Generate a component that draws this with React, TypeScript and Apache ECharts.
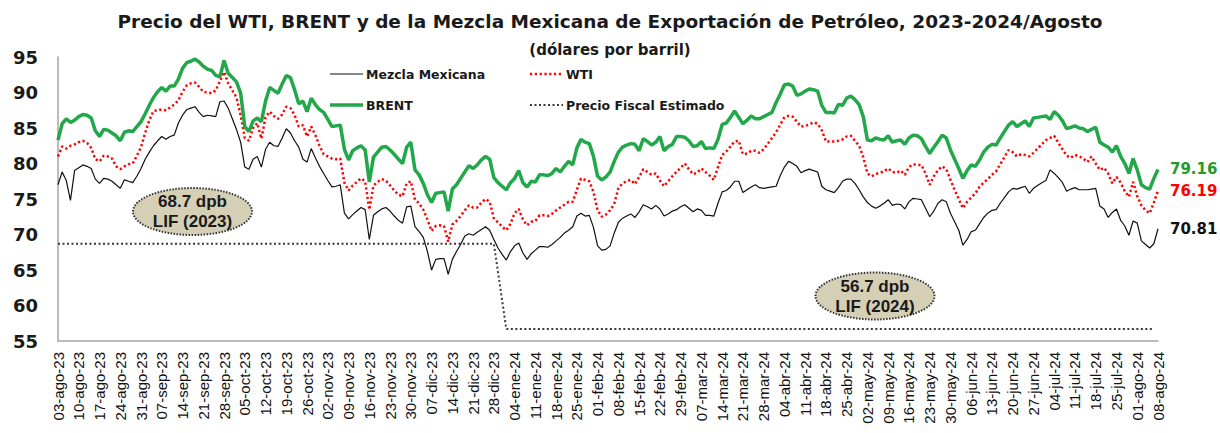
import React, { useEffect, useRef } from "react";
import * as echarts from "echarts";

const TITLE = "Precio del WTI, BRENT y de la Mezcla Mexicana de Exportación de Petróleo, 2023-2024/Agosto";
const SUBTITLE = "(dólares por barril)";

const TICK_LABELS = [
  "03-ago-23", "10-ago-23", "17-ago-23", "24-ago-23", "31-ago-23", "07-sep-23", "14-sep-23", "21-sep-23", "28-sep-23",
  "05-oct-23", "12-oct-23", "19-oct-23", "26-oct-23", "02-nov-23", "09-nov-23", "16-nov-23", "23-nov-23", "30-nov-23",
  "07-dic-23", "14-dic-23", "21-dic-23", "28-dic-23", "04-ene-24", "11-ene-24", "18-ene-24", "25-ene-24", "01-feb-24",
  "08-feb-24", "15-feb-24", "22-feb-24", "29-feb-24", "07-mar-24", "14-mar-24", "21-mar-24", "28-mar-24", "04-abr-24",
  "11-abr-24", "18-abr-24", "25-abr-24", "02-may-24", "09-may-24", "16-may-24", "23-may-24", "30-may-24", "06-jun-24",
  "13-jun-24", "20-jun-24", "27-jun-24", "04-jul-24", "11-jul-24", "18-jul-24", "25-jul-24", "01-ago-24", "08-ago-24",
];

const MONTHS_ES = ["ene", "feb", "mar", "abr", "may", "jun", "jul", "ago", "sep", "oct", "nov", "dic"];
const START_DATE = [2023, 7, 3];
const END_DATE = [2024, 7, 8];

// Daily (weekday) values, 03-ago-23 .. 08-ago-24
const BRENT = [
  83.3, 85.6, 86.3, 85.8, 86.1, 86.6, 86.9, 86.8, 86.4, 84.6,
  83.8, 84.8, 84.7, 84.3, 83.9, 83.2, 84.4, 84.6, 84.5, 85.2,
  85.9, 87.0, 88.2, 89.3, 90.1, 90.7, 90.2, 90.9, 90.9, 91.9,
  93.4, 94.2, 94.4, 94.7, 94.3, 93.7, 93.3, 93.1, 92.4, 92.2,
  94.5, 92.7, 92.1, 91.5, 89.9, 85.2, 84.5, 86.0, 86.4, 85.9,
  88.8, 90.7, 90.3, 89.9, 91.2, 92.4, 92.1, 90.4, 88.4, 88.8,
  87.3, 89.2, 88.3, 87.6, 87.2, 86.2, 85.2, 85.3, 85.4, 82.0,
  80.5, 81.8, 82.2, 82.5, 81.9, 77.4, 80.9, 81.6, 82.3, 82.4,
  81.9, 81.3, 80.6, 80.0, 82.3, 83.0, 79.1, 78.4, 77.2, 75.6,
  74.5, 75.8, 75.9, 76.0, 73.3, 76.4, 77.0, 77.9, 78.8, 79.7,
  79.3, 79.8, 80.5, 81.0, 80.6, 78.0, 77.3, 76.8, 76.3, 77.3,
  77.9, 79.0, 77.3, 76.7, 77.5, 77.4, 78.4, 78.4, 78.3, 78.6,
  79.3, 78.8, 79.6, 80.3, 79.8, 82.2, 83.4, 83.0, 82.8, 81.0,
  78.2, 77.7, 78.1, 78.8, 80.3, 81.6, 82.3, 82.6, 82.8, 82.7,
  81.8, 83.5, 83.1, 82.6, 83.0, 83.8, 81.8, 82.4, 82.7, 83.8,
  83.8, 83.7, 83.2, 82.4, 82.5, 83.1, 82.1, 82.2, 82.1, 83.4,
  85.5, 85.7, 86.5, 87.4, 86.5, 85.6, 86.1, 86.7, 86.3, 86.3,
  86.6, 86.9, 87.2, 88.6, 89.8, 91.1, 91.2, 90.9, 89.6, 89.8,
  90.2, 90.5, 90.4, 90.2, 88.2, 87.2, 87.2, 87.1, 88.3, 88.2,
  89.2, 89.5, 89.0, 88.3, 86.6, 83.3, 83.2, 83.6, 83.4, 83.3,
  83.9, 83.0, 83.2, 83.3, 82.7, 83.6, 84.0, 83.9, 83.5, 82.4,
  81.4, 82.3, 83.1, 84.0, 83.6, 81.9, 80.6, 79.3, 77.9, 79.0,
  79.8, 79.6, 80.5, 81.6, 82.3, 82.7, 82.6, 83.6, 84.5, 85.4,
  85.9, 85.2, 85.6, 86.0, 85.2, 86.4, 86.5, 86.6, 86.7, 86.2,
  87.3, 86.8, 86.0, 84.9, 85.1, 85.3, 85.0, 84.9, 84.5, 84.8,
  85.1, 83.0, 82.6, 82.3, 81.6, 82.5, 81.0, 80.0, 78.6, 80.7,
  79.1, 77.0, 76.6, 76.4, 77.9, 79.16,
];

const WTI = [
  81.0, 82.4, 82.1, 82.5, 82.7, 83.0, 83.2, 82.9, 82.2, 80.6,
  80.3, 81.1, 81.0, 80.7, 79.6, 79.2, 79.6, 79.9, 80.0, 81.1,
  82.3, 84.3, 86.1, 87.4, 87.5, 87.6, 87.5, 87.9, 88.3, 88.9,
  90.1, 91.0, 91.3, 91.4, 90.8, 90.1, 90.0, 89.9, 90.3, 91.6,
  92.9, 91.3, 90.3, 89.3, 86.8, 83.6, 83.2, 85.0, 85.7, 83.5,
  86.5, 87.3, 86.7, 86.3, 86.9, 88.0, 87.8, 86.8, 85.2, 85.4,
  83.8, 85.2, 84.0, 82.5, 81.3, 81.0, 80.7, 80.6, 80.7, 77.3,
  76.2, 76.9, 77.4, 77.9, 77.5, 73.5, 76.9, 77.4, 77.8, 77.6,
  76.9, 76.2, 75.6, 75.4, 77.2, 77.5, 74.9, 74.4, 73.5, 72.1,
  70.5, 71.2, 71.3, 71.2, 69.0, 71.4, 71.9, 72.6, 73.4, 74.1,
  73.8, 73.8, 74.5, 75.0, 74.6, 72.3, 71.7, 71.1, 70.6, 71.5,
  73.0, 73.6, 72.1, 71.3, 71.8, 71.9, 72.7, 72.7, 72.6, 72.9,
  73.4, 73.8, 74.2, 74.6, 74.6, 76.3, 77.9, 77.7, 77.5, 76.0,
  73.4, 72.5, 72.8, 73.4, 74.3, 76.5, 77.2, 77.5, 77.7, 77.1,
  78.1, 79.2, 78.8, 78.4, 78.6, 77.6, 76.8, 77.5, 78.2, 78.8,
  79.4, 80.0, 79.2, 78.5, 78.7, 79.3, 78.8, 78.3, 77.7, 79.5,
  81.2, 81.7, 82.4, 83.1, 83.2, 81.3, 81.4, 81.8, 81.8, 81.5,
  82.0, 82.8, 83.6, 84.4, 85.5, 86.5, 86.7, 86.6, 85.9, 85.2,
  85.3, 85.5, 85.8, 85.6, 84.7, 83.1, 83.1, 83.1, 83.2, 83.4,
  83.8, 83.9, 83.2, 82.5, 80.9, 78.6, 78.2, 78.5, 78.7, 78.9,
  79.3, 78.8, 78.7, 79.0, 78.4, 79.5, 79.9, 79.8, 79.8, 78.6,
  77.0, 78.2, 79.1, 79.6, 79.2, 77.7, 76.3, 75.0, 73.7, 74.6,
  75.2, 75.8, 76.7, 77.3, 77.8, 78.4, 78.9, 79.9, 80.9, 81.9,
  81.6, 81.0, 81.3, 81.2, 81.0, 81.5, 82.1, 82.7, 83.3, 83.6,
  83.9, 82.9, 82.0, 81.1, 80.8, 81.2, 81.0, 80.7, 80.2, 81.0,
  80.0, 79.1, 79.4, 78.6, 77.2, 78.1, 77.3, 76.1, 75.3, 77.4,
  75.4, 74.1, 73.4, 73.0, 74.5, 76.19,
];

const MEZCLA = [
  77.0, 78.8, 77.6, 74.8, 79.0, 79.4, 79.8, 79.6, 79.3, 77.8,
  77.2, 77.9, 77.8, 77.5, 77.0, 76.5, 77.7, 77.5, 77.3, 78.2,
  79.3, 80.6, 81.6, 82.5, 83.2, 83.8, 83.4, 83.8, 84.0, 85.7,
  86.8, 87.6, 87.8, 88.0, 87.2, 86.6, 86.8, 86.7, 86.6, 88.7,
  88.8, 87.8, 86.3, 84.8, 83.0, 79.5, 79.2, 80.6, 81.0, 79.5,
  82.0, 83.0, 82.5, 82.4, 83.6, 84.9, 84.3, 83.2, 82.3, 80.6,
  80.2, 82.1, 80.8, 79.6, 78.6, 77.6, 76.7, 76.8, 77.0, 73.0,
  72.2, 72.8, 73.3, 73.8, 73.5, 69.3, 72.7, 73.2, 73.6, 73.8,
  73.3, 72.6, 72.0, 71.6, 73.9, 74.0, 71.1, 70.4, 69.6, 67.6,
  65.0, 66.5, 66.6, 66.6, 64.4, 66.5, 67.6, 68.6, 69.8, 70.1,
  69.9, 70.3, 70.7, 71.1, 70.6, 69.3, 68.1, 67.2, 66.4, 67.6,
  68.4, 68.8, 67.4, 66.5, 67.3, 67.8, 68.3, 68.3, 68.2, 68.6,
  69.1, 69.6, 70.2, 70.6, 71.1, 72.6, 73.0, 72.6, 72.7, 71.0,
  68.4, 67.8, 67.9, 68.4, 70.2, 71.7, 72.3, 72.6, 72.9, 72.4,
  73.2, 74.2, 73.9, 73.6, 74.1, 73.6, 72.6, 72.9, 73.3, 73.5,
  73.9, 74.2, 73.7, 73.2, 73.6, 73.4, 72.7, 72.7, 72.6, 74.4,
  76.0, 76.2, 76.7, 77.5, 77.5, 75.9, 76.3, 76.7, 77.0, 76.6,
  76.5, 76.6, 76.7, 76.8, 78.3, 79.5, 80.3, 80.0, 79.6, 78.7,
  79.0, 79.2, 79.0, 78.8, 76.8, 76.3, 76.1, 75.9, 76.6, 77.5,
  77.8, 77.8, 77.2, 76.3, 75.3, 74.5, 74.0, 73.7, 74.0, 74.4,
  74.9, 74.1, 74.3, 74.2, 73.6, 74.6, 75.1, 75.0, 74.9, 73.7,
  72.5, 73.3, 74.4, 74.9, 74.6, 73.0, 71.8, 70.6, 68.5, 69.3,
  70.4, 70.6, 71.5, 72.4, 73.0, 73.4, 73.5, 74.4, 75.2, 76.0,
  76.5, 76.4, 76.6, 76.8, 75.8, 76.5, 76.9, 77.3, 77.6, 79.1,
  78.6, 78.0, 77.3, 76.1, 76.4, 76.6, 76.3, 76.3, 76.3, 76.4,
  76.5, 74.0, 73.6, 72.4, 73.1, 73.6, 72.0, 71.2, 69.9, 71.9,
  71.6, 69.1, 68.6, 68.1, 68.7, 70.81,
];

const FISCAL_2023 = 68.7;
const FISCAL_2024 = 56.7;
const FISCAL_2023_LAST_DAY = "28-dic-23";
const FISCAL_2024_FIRST_DAY = "02-ene-24";
const FISCAL_2024_LAST_DAY = "07-ago-24";

const Y_TICKS = [55, 60, 65, 70, 75, 80, 85, 90, 95];

function fmtDay(d: Date): string {
  const dd = String(d.getUTCDate()).padStart(2, "0");
  const yy = String(d.getUTCFullYear()).slice(2);
  return `${dd}-${MONTHS_ES[d.getUTCMonth()]}-${yy}`;
}

function buildDays(): string[] {
  const out: string[] = [];
  const d = new Date(Date.UTC(START_DATE[0], START_DATE[1], START_DATE[2]));
  const end = Date.UTC(END_DATE[0], END_DATE[1], END_DATE[2]);
  while (d.getTime() <= end) {
    const wd = d.getUTCDay();
    if (wd !== 0 && wd !== 6) out.push(fmtDay(d));
    d.setUTCDate(d.getUTCDate() + 1);
  }
  return out;
}

const FONT = "'DejaVu Sans', Verdana, sans-serif";
const LABEL_FONT = "'Liberation Sans', Arial, sans-serif";

export default function App() {
  const ref = useRef<HTMLDivElement>(null);

  useEffect(() => {
    if (!ref.current) return;
    const chart = echarts.init(ref.current, undefined, { renderer: "svg" });
    const days = buildDays();
    const i23 = days.indexOf(FISCAL_2023_LAST_DAY);
    const i24a = days.indexOf(FISCAL_2024_FIRST_DAY);
    const i24b = days.indexOf(FISCAL_2024_LAST_DAY);
    const fiscal = days.map((_, i) =>
      i <= i23 ? FISCAL_2023 : i >= i24a && i <= i24b ? FISCAL_2024 : null
    );
    const tickSet = new Set(TICK_LABELS);

    const legendItem = (x: number, y: number, label: string, style: any) => [
      { type: "line", shape: { x1: x, y1: y, x2: x + 33, y2: y }, style, silent: true },
      {
        type: "text",
        x: x + 36,
        y,
        style: { text: label, fill: "#1a1a1a", font: `bold 12.5px ${FONT}`, verticalAlign: "middle" },
        silent: true,
      },
    ];

    const ellipse = (cx: number, cy: number, l1: string, l2: string) => [
      {
        type: "ellipse",
        shape: { cx, cy, rx: 59.5, ry: 23.5 },
        style: { fill: "#d5cfb5", stroke: "#333333", lineWidth: 2, lineDash: [1.5, 1.5] },
        silent: true,
        z: 10,
      },
      {
        type: "text",
        x: cx,
        y: cy - 10,
        style: { text: l1, fill: "#1a1a1a", font: `bold 17px ${LABEL_FONT}`, align: "center", verticalAlign: "middle" },
        silent: true,
        z: 11,
      },
      {
        type: "text",
        x: cx,
        y: cy + 10,
        style: { text: l2, fill: "#1a1a1a", font: `bold 17px ${LABEL_FONT}`, align: "center", verticalAlign: "middle" },
        silent: true,
        z: 11,
      },
    ];

    const endLabel = (color: string) => ({
      show: true,
      distance: 12,
      formatter: (p: any) => Number(p.value).toFixed(2),
      color,
      fontFamily: FONT,
      fontWeight: "bold",
      fontSize: 15,
    });

    chart.setOption({
      animation: false,
      backgroundColor: "#ffffff",
      title: [
        {
          text: TITLE,
          left: "center",
          top: 7,
          textStyle: { fontFamily: FONT, fontSize: 18.5, fontWeight: "bold", color: "#1a1a1a" },
        },
        {
          text: SUBTITLE,
          left: "center",
          top: 37,
          textStyle: { fontFamily: FONT, fontSize: 15, fontWeight: "bold", color: "#1a1a1a" },
        },
      ],
      grid: { left: 58, right: 62, top: 57, bottom: 92, containLabel: false },
      xAxis: {
        type: "category",
        data: days,
        boundaryGap: false,
        axisLine: { show: true, lineStyle: { color: "#a6a6a6", width: 1.5 } },
        axisTick: { show: false },
        axisLabel: {
          interval: 0,
          rotate: 90,
          margin: 11,
          fontSize: 15,
          fontFamily: LABEL_FONT,
          color: "#111",
          formatter: (v: string) => (tickSet.has(v) ? v : ""),
        },
        splitLine: { show: false },
      },
      yAxis: {
        type: "value",
        min: Y_TICKS[0],
        max: Y_TICKS[Y_TICKS.length - 1],
        interval: 5,
        axisLine: { show: true, lineStyle: { color: "#a6a6a6", width: 1.5 } },
        axisTick: { show: false },
        splitLine: { show: false },
        axisLabel: { fontFamily: FONT, fontSize: 18, fontWeight: "bold", color: "#1a1a1a", margin: 20 },
      },
      series: [
        {
          name: "Precio Fiscal Estimado",
          type: "line",
          data: fiscal,
          connectNulls: true,
          symbol: "none",
          lineStyle: { color: "#3a3a3a", width: 2, type: [2, 2.5] },
          z: 2,
        },
        {
          name: "Mezcla Mexicana",
          type: "line",
          data: MEZCLA,
          symbol: "none",
          lineStyle: { color: "#111111", width: 1.2 },
          endLabel: endLabel("#111111"),
          z: 3,
        },
        {
          name: "WTI",
          type: "line",
          data: WTI,
          symbol: "none",
          lineStyle: { color: "#ff0000", width: 2.5, type: [2.2, 2.6] },
          endLabel: endLabel("#ff0000"),
          z: 4,
        },
        {
          name: "BRENT",
          type: "line",
          data: BRENT,
          symbol: "none",
          lineStyle: { color: "#22a84a", width: 3.5 },
          endLabel: endLabel("#1f9a2c"),
          z: 5,
        },
      ],
      graphic: [
        ...legendItem(330, 74, "Mezcla Mexicana", { stroke: "#111", lineWidth: 1.2 }),
        ...legendItem(530, 74, "WTI", { stroke: "#ff0000", lineWidth: 2.5, lineDash: [2.2, 2.6] }),
        ...legendItem(330, 105, "BRENT", { stroke: "#22a84a", lineWidth: 3.5 }),
        ...legendItem(530, 105, "Precio Fiscal Estimado", { stroke: "#3a3a3a", lineWidth: 2, lineDash: [2, 2.5] }),
        ...ellipse(192.5, 211.5, "68.7 dpb", "LIF (2023)"),
        ...ellipse(875, 296, "56.7 dpb", "LIF (2024)"),
      ],
    });

    return () => chart.dispose();
  }, []);

  return (
    <div
      ref={ref}
      style={{ position: "absolute", left: 0, top: 0, width: 1220, height: 433 }}
    />
  );
}
